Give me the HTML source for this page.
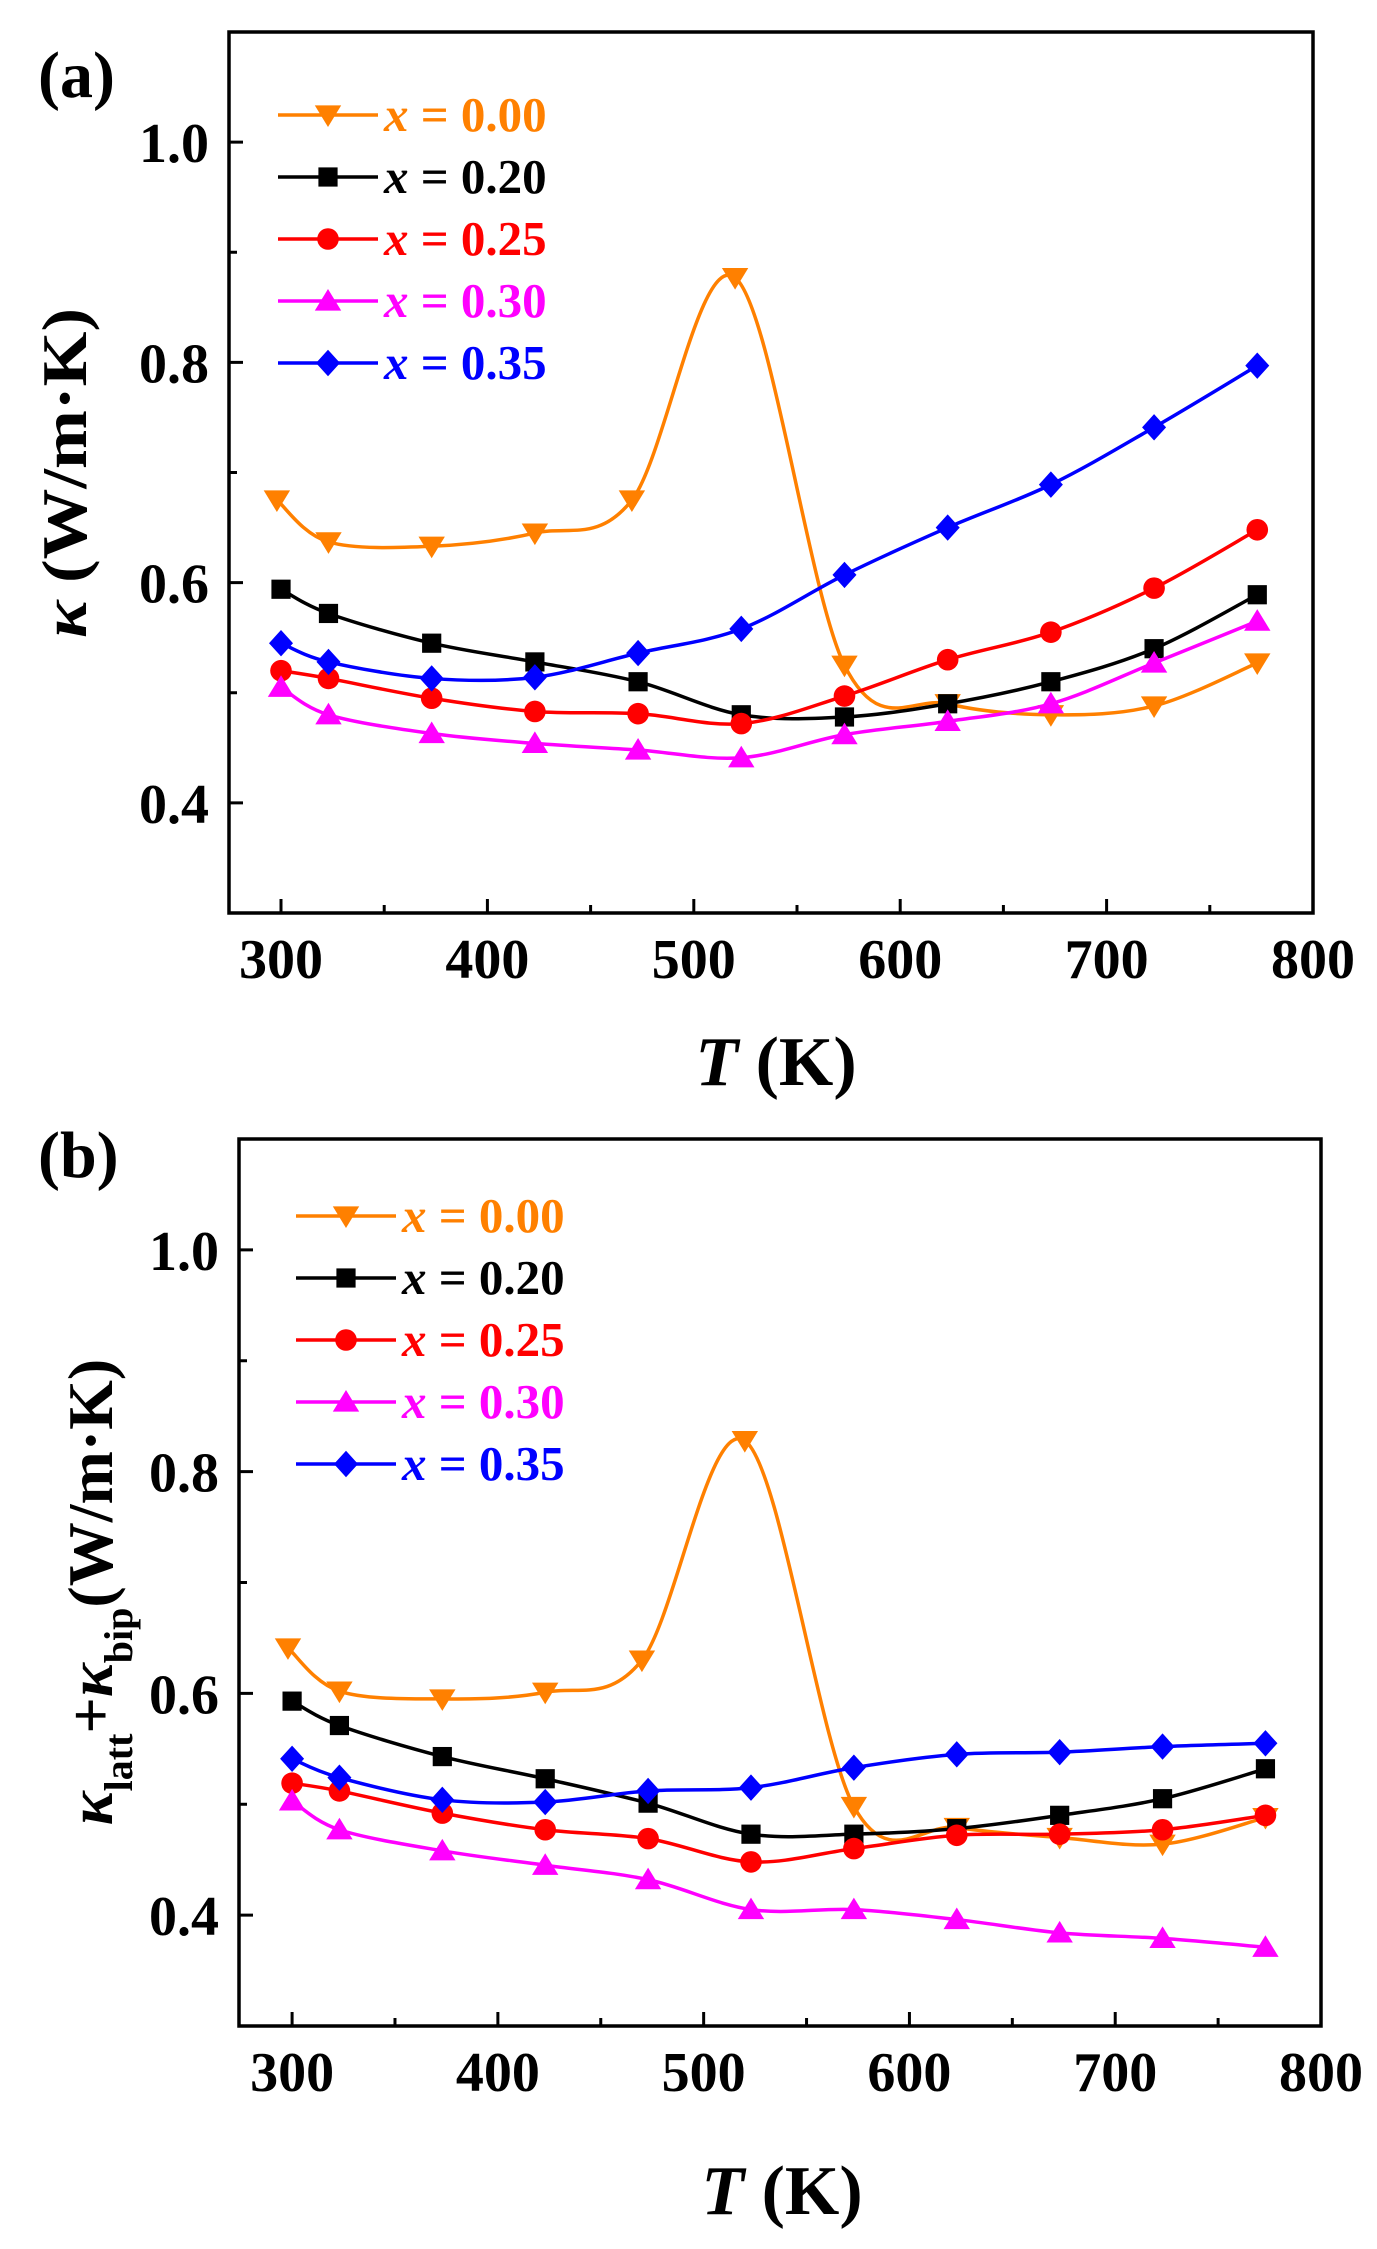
<!DOCTYPE html>
<html><head><meta charset="utf-8"><style>
html,body{margin:0;padding:0;background:#fff;}
svg{display:block;font-family:"Liberation Serif",serif;font-weight:bold;}
</style></head><body>
<svg id="fig" width="1377" height="2249" viewBox="0 0 1377 2249" xmlns="http://www.w3.org/2000/svg"></svg>
<script>
// ---- data ----
const temps = [300, 323, 373, 423, 473, 523, 573, 623, 673, 723, 773];
const tempsOrange = [298, 323, 373, 423, 470, 520, 573, 623, 673, 723, 773];
const seriesLabels = ["x = 0.00", "x = 0.20", "x = 0.25", "x = 0.30", "x = 0.35"];
const seriesColors = ["#ff8000", "#000000", "#ff0000", "#ff00ff", "#0000ff"];
const seriesMarkers = ["tri-down", "square", "circle", "tri-up", "diamond"];
// panel (a): total kappa
const a_x000 = [0.675, 0.637, 0.633, 0.645, 0.675, 0.877, 0.525, 0.490, 0.480, 0.488, 0.527];
const a_x020 = [0.594, 0.572, 0.545, 0.528, 0.510, 0.480, 0.478, 0.490, 0.510, 0.540, 0.589];
const a_x025 = [0.520, 0.513, 0.495, 0.483, 0.481, 0.472, 0.497, 0.530, 0.555, 0.595, 0.648];
const a_x030 = [0.505, 0.480, 0.463, 0.454, 0.448, 0.441, 0.462, 0.474, 0.490, 0.527, 0.565];
const a_x035 = [0.545, 0.528, 0.513, 0.514, 0.536, 0.558, 0.607, 0.650, 0.689, 0.741, 0.797];
// panel (b): kappa_latt + kappa_bip
const b_x000 = [0.641, 0.602, 0.595, 0.601, 0.630, 0.828, 0.498, 0.479, 0.470, 0.464, 0.488];
const b_x020 = [0.593, 0.571, 0.543, 0.523, 0.501, 0.473, 0.473, 0.478, 0.490, 0.505, 0.532];
const b_x025 = [0.519, 0.512, 0.492, 0.477, 0.469, 0.448, 0.460, 0.472, 0.473, 0.477, 0.490];
const b_x030 = [0.503, 0.477, 0.458, 0.445, 0.432, 0.405, 0.405, 0.396, 0.384, 0.379, 0.371];
const b_x035 = [0.541, 0.524, 0.504, 0.502, 0.512, 0.515, 0.533, 0.545, 0.547, 0.552, 0.555];
const xTicks = [300, 400, 500, 600, 700, 800];
const yTicks = [0.4, 0.6, 0.8, 1.0];

const NS = "http://www.w3.org/2000/svg";
const svg = document.getElementById("fig");
function mk(tag, attrs, parent) {
  const e = document.createElementNS(NS, tag);
  for (const k in attrs) e.setAttribute(k, attrs[k]);
  (parent || svg).appendChild(e);
  return e;
}

function spline(pts) {
  let d = "M" + pts[0][0] + "," + pts[0][1];
  for (let i = 0; i < pts.length - 1; i++) {
    const p0 = pts[i - 1] || pts[i], p1 = pts[i], p2 = pts[i + 1], p3 = pts[i + 2] || p2;
    const c1x = p1[0] + (p2[0] - p0[0]) / 6, c1y = p1[1] + (p2[1] - p0[1]) / 6;
    const c2x = p2[0] - (p3[0] - p1[0]) / 6, c2y = p2[1] - (p3[1] - p1[1]) / 6;
    d += " C" + c1x + "," + c1y + " " + c2x + "," + c2y + " " + p2[0] + "," + p2[1];
  }
  return d;
}

function marker(type, cx, cy, color, g) {
  const s = 12;
  let e;
  if (type === "square") e = mk("rect", {x: cx - s*0.8, y: cy - s*0.8, width: s*1.6, height: s*1.6, fill: color}, g);
  else if (type === "circle") e = mk("circle", {cx: cx, cy: cy, r: s*0.9, fill: color}, g);
  else if (type === "tri-down") e = mk("polygon", {points: (cx-s*1.1)+","+(cy-s*0.8)+" "+(cx+s*1.1)+","+(cy-s*0.8)+" "+cx+","+(cy+s*1.0), fill: color}, g);
  else if (type === "tri-up") e = mk("polygon", {points: (cx-s*1.1)+","+(cy+s*0.8)+" "+(cx+s*1.1)+","+(cy+s*0.8)+" "+cx+","+(cy-s*1.0), fill: color}, g);
  else e = mk("polygon", {points: cx+","+(cy-s*1.1)+" "+(cx+s*1.0)+","+cy+" "+cx+","+(cy+s*1.1)+" "+(cx-s*1.0)+","+cy, fill: color}, g);
  return e;
}

function panel(cfg) {
  const {L, R, T, B, x0, x1, y0, y1, data, tag, legX, legY, legDY} = cfg;
  const sx = v => L + (v - x0) / (x1 - x0) * (R - L);
  const sy = v => B - (v - y0) / (y1 - y0) * (B - T);
  const g = mk("g", {});
  
  
  const tg = mk("g", {stroke: "#000", "stroke-width": 3}, g);
  for (let v = 300; v <= 800; v += 50) {
    const x = sx(v), len = (v % 100 === 0) ? 14 : 8;
    mk("line", {x1: x, y1: B, x2: x, y2: B - len}, tg);
  }
  for (let k = 4; k <= 10; k++) {
    const v = k / 10, y = sy(v), major = (k % 2 === 0);
    mk("line", {x1: L, y1: y, x2: L + (major ? 14 : 8), y2: y}, tg);
  }
  const fr = mk("rect", {x: L, y: T, width: R - L, height: B - T, fill: "none", stroke: "#000", "stroke-width": 3.5}, g);
  
  
  xTicks.forEach(v => {
    const t = mk("text", {x: sx(v), y: B + 65, "font-size": 56, "text-anchor": "middle"}, g);
    t.textContent = v;
    
    
  });
  yTicks.forEach(v => {
    const t = mk("text", {x: L - 20, y: sy(v) + 20, "font-size": 56, "text-anchor": "end"}, g);
    t.textContent = v.toFixed(1);
    
    
  });
  data.forEach((vals, i) => {
    const xs = i === 0 ? tempsOrange : temps;
    const pts = vals.map((v, j) => [sx(xs[j]), sy(v)]);
    const sg = mk("g", {}, g);
    
    
    mk("path", {d: spline(pts), fill: "none", stroke: seriesColors[i], "stroke-width": 3.5}, sg);
    pts.forEach(p => {
      const m = marker(seriesMarkers[i], p[0], p[1], seriesColors[i], sg);
      
      
    });
    const lg = mk("g", {}, g);
    
    
    const ly = legY + i * legDY;
    mk("line", {x1: legX, y1: ly, x2: legX + 100, y2: ly, stroke: seriesColors[i], "stroke-width": 3.5}, lg);
    marker(seriesMarkers[i], legX + 50, ly, seriesColors[i], lg);
    const t = mk("text", {x: legX + 106, y: ly + 16, "font-size": 49, fill: seriesColors[i]}, lg);
    const it = mk("tspan", {"font-style": "italic"}, t); it.textContent = "x";
    const rest = mk("tspan", {}, t); rest.textContent = " = " + seriesLabels[i].split("= ")[1];
  });
  return {sx, sy};
}

panel({L: 229, R: 1313, T: 32, B: 913, x0: 274.8, x1: 800, y0: 0.3, y1: 1.1,
  data: [a_x000, a_x020, a_x025, a_x030, a_x035], tag: "a", legX: 278, legY: 115, legDY: 62});
panel({L: 239, R: 1321, T: 1139, B: 2026, x0: 274.2, x1: 800, y0: 0.3, y1: 1.1,
  data: [b_x000, b_x020, b_x025, b_x030, b_x035], tag: "b", legX: 296, legY: 1216, legDY: 62});
</script>
<div style="position:absolute;left:0;top:0;width:1377px;height:2249px;pointer-events:none">
<svg width="1377" height="2249" style="font-family:'Liberation Serif',serif;font-weight:bold">
  <text x="38" y="97" font-size="66">(a)</text>
  <text x="38" y="1177" font-size="66">(b)</text>
  <text x="776" y="1085" font-size="70" text-anchor="middle"><tspan font-style="italic">T</tspan> (K)</text>
  <text x="782" y="2214" font-size="70" text-anchor="middle"><tspan font-style="italic">T</tspan> (K)</text>
  <text transform="translate(86,473) rotate(-90)" font-size="64" text-anchor="middle" textLength="330" lengthAdjust="spacingAndGlyphs"><tspan font-style="italic">κ</tspan> (W/m·K)</text>
  <text transform="translate(112,1592) rotate(-90)" font-size="64" text-anchor="middle"><tspan font-style="italic">κ</tspan><tspan font-size="40" dy="20">latt</tspan><tspan dy="-20">+</tspan><tspan font-style="italic">κ</tspan><tspan font-size="40" dy="20">bip</tspan><tspan dy="-20">(W/m·K)</tspan></text>
</svg>
</div>
</body></html>
